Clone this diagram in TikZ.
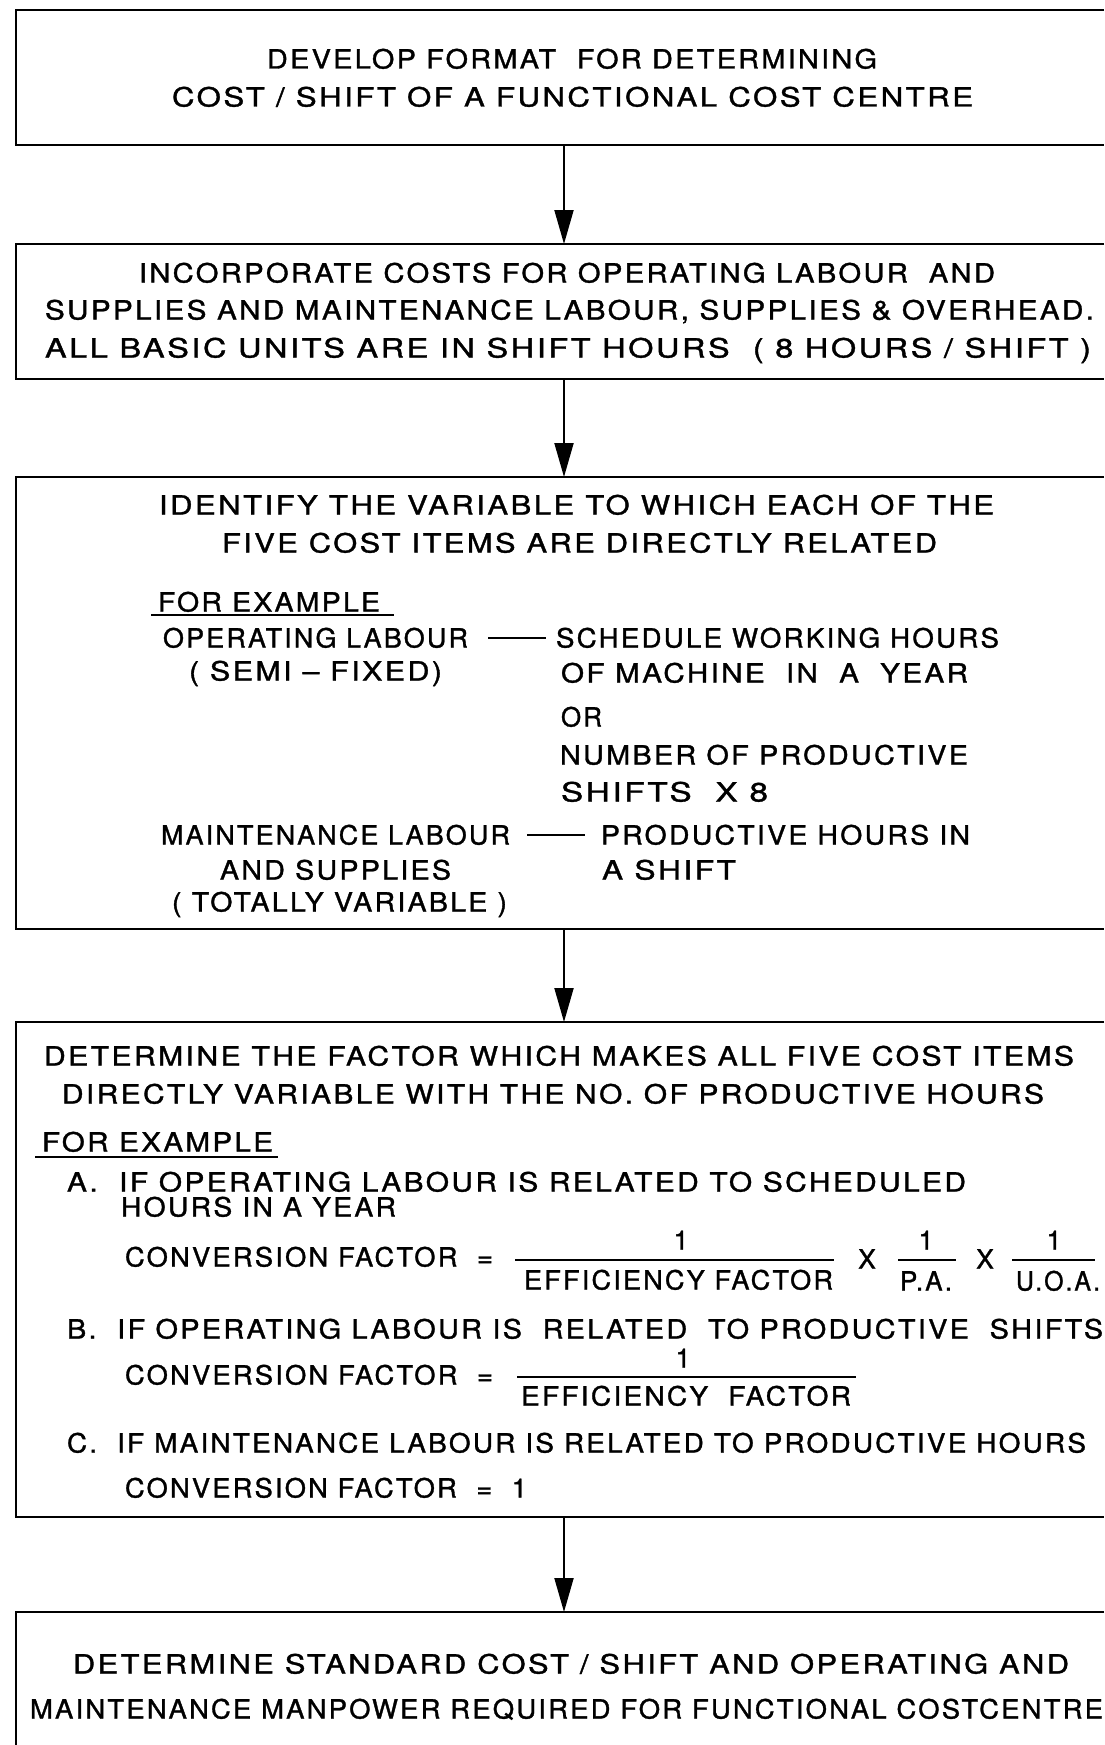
\documentclass[tikz,border=0pt]{standalone}
\usepackage{fontspec}
\setmainfont{TeX Gyre Heros}[LetterSpace=8,FakeBold=1.2]
\usetikzlibrary{arrows.meta}
\newcommand{\fw}[2]{\resizebox{#1pt}{\height}{#2}}
\newcommand{\mytxt}[5]{\node[txt] (#1) at (#2,{#3+9.5}) {\fw{#4}{#5}};}
\newcommand{\mynum}[4]{\node[ctxt] (#1) at (#2,{#3+9.5}) {#4};}
\begin{document}
\begin{tikzpicture}[x=1pt,y=-1pt,
  txt/.style={inner sep=0pt, outer sep=0pt, anchor=base west, font=\fontsize{26.5}{30}\selectfont},
  ctxt/.style={inner sep=0pt, outer sep=0pt, anchor=base, font=\fontsize{26.5}{30}\selectfont},
  boxline/.style={line width=2.4pt, line join=miter},
  arr/.style={line width=2pt, -{Triangle[length=34pt,width=19pt]}},
  rulel/.style={line width=2pt},
  boxn/.style={inner sep=0pt, outer sep=0pt, anchor=north west, minimum width=1088pt}]
\useasboundingbox[fill=white] (0,0) rectangle (1104,1745);

% boxes
\node[boxn, minimum height=135pt] (box1) at (16,10) {};
\node[boxn, minimum height=135pt] (box2) at (16,244) {};
\node[boxn, minimum height=452pt] (box3) at (16,477) {};
\node[boxn, minimum height=495pt] (box4) at (16,1022) {};
\node[boxn, minimum height=133pt] (box5) at (16,1612) {};
\foreach \b in {box1,box2,box3,box4}{
  \draw[boxline] (\b.north east) -- (\b.north west) -- (\b.south west) -- (\b.south east);
}
\draw[boxline] (box5.north east) -- (box5.north west) -- (box5.south west);

% arrows
\coordinate (ax) at (564,0);
\draw[arr] (box1.south -| ax) -- (box2.north -| ax);
\draw[arr] (box2.south -| ax) -- (box3.north -| ax);
\draw[arr] (box3.south -| ax) -- (box4.north -| ax);
\draw[arr] (box4.south -| ax) -- (box5.north -| ax);

% box 1
\mytxt{b1a}{267}{59}{610}{DEVELOP FORMAT\ \ FOR DETERMINING}
\mytxt{b1b}{172}{97}{801}{COST / SHIFT OF A FUNCTIONAL COST CENTRE}

% box 2
\mytxt{b2a}{139}{273}{856}{INCORPORATE COSTS FOR OPERATING LABOUR\ \ AND}
\mytxt{b2b}{45}{310}{1049}{SUPPLIES AND MAINTENANCE LABOUR, SUPPLIES \& OVERHEAD.}
\mytxt{b2c}{45}{348}{1046}{ALL BASIC UNITS ARE IN SHIFT HOURS\ \ ( 8 HOURS / SHIFT )}

% box 3
\mytxt{b3a}{159}{505}{835}{IDENTIFY THE VARIABLE TO WHICH EACH OF THE}
\mytxt{b3b}{222}{543}{715}{FIVE COST ITEMS ARE DIRECTLY RELATED}
\mytxt{b3c}{158}{602}{222}{FOR EXAMPLE}
\coordinate (u1a) at (151,615); \coordinate (u1b) at (394,615);
\draw[rulel] (u1a) -- (u1b);
\mytxt{b3d}{163}{638}{305}{OPERATING LABOUR}
\coordinate (d1a) at (488,638); \coordinate (d1b) at (546,638);
\draw[rulel] (d1a) -- (d1b);
\mytxt{b3e}{556}{638}{443}{SCHEDULE WORKING HOURS}
\mytxt{b3f}{189}{671}{253}{( SEMI – FIXED)}
\mytxt{b3g}{561}{673}{407}{OF MACHINE\ \ IN\ \ A\ \ YEAR}
\mytxt{b3h}{561}{717}{41}{OR}
\mytxt{b3i}{560}{755}{408}{NUMBER OF PRODUCTIVE}
\mytxt{b3j}{561}{792}{207}{SHIFTS\ \ X 8}
\mytxt{b3k}{161}{835}{349}{MAINTENANCE LABOUR}
\coordinate (d2a) at (527,835); \coordinate (d2b) at (585,835);
\draw[rulel] (d2a) -- (d2b);
\mytxt{b3l}{601}{835}{369}{PRODUCTIVE HOURS IN}
\mytxt{b3m}{220}{870}{231}{AND SUPPLIES}
\mytxt{b3n}{602}{870}{134}{A SHIFT}
\mytxt{b3o}{172}{902}{335}{( TOTALLY VARIABLE )}

% box 4
\mytxt{b4a}{44}{1056}{1030}{DETERMINE THE FACTOR WHICH MAKES ALL FIVE COST ITEMS}
\mytxt{b4b}{62}{1094}{982}{DIRECTLY VARIABLE WITH THE NO. OF PRODUCTIVE HOURS}
\mytxt{b4c}{42}{1142}{231}{FOR EXAMPLE}
\coordinate (u2a) at (35,1157); \coordinate (u2b) at (278,1157);
\draw[rulel] (u2a) -- (u2b);
\mytxt{b4d}{67}{1182}{899}{A.\ \ IF OPERATING LABOUR IS RELATED TO SCHEDULED}
\mytxt{b4e}{121}{1207}{275}{HOURS IN A YEAR}
\mytxt{b4f}{125}{1257}{368}{CONVERSION FACTOR\ \ =}
\mynum{f1n}{681}{1240}{1}
\coordinate (f1a) at (515,1260); \coordinate (f1b) at (834,1260);
\draw[rulel] (f1a) -- (f1b);
\mytxt{f1d}{524}{1280}{309}{EFFICIENCY FACTOR}
\mynum{x1}{867}{1259}{X}
\mynum{f2n}{926}{1240}{1}
\coordinate (f2a) at (898,1260); \coordinate (f2b) at (956,1260);
\draw[rulel] (f2a) -- (f2b);
\mytxt{f2d}{900}{1281}{52}{P.A.}
\mynum{x2}{985}{1259}{X}
\mynum{f3n}{1054}{1240}{1}
\coordinate (f3a) at (1012,1260); \coordinate (f3b) at (1095,1260);
\draw[rulel] (f3a) -- (f3b);
\mytxt{f3d}{1016}{1281}{84}{U.O.A.}
\mytxt{b4g}{67}{1329}{1036}{B.\ \ IF OPERATING LABOUR IS\ \ RELATED\ \ TO PRODUCTIVE\ \ SHIFTS}
\mytxt{b4h}{125}{1375}{368}{CONVERSION FACTOR\ \ =}
\mynum{f4n}{683}{1358}{1}
\coordinate (f4a) at (517,1377); \coordinate (f4b) at (856,1377);
\draw[rulel] (f4a) -- (f4b);
\mytxt{f4d}{521}{1396}{330}{EFFICIENCY\ \ FACTOR}
\mytxt{b4i}{67}{1443}{1019}{C.\ \ IF MAINTENANCE LABOUR IS RELATED TO PRODUCTIVE HOURS}
\mytxt{b4j}{125}{1488}{402}{CONVERSION FACTOR\ \ =\ \ 1}

% box 5
\mytxt{b5a}{73}{1664}{996}{DETERMINE STANDARD COST / SHIFT AND OPERATING AND}
\mytxt{b5b}{30}{1709}{1073}{MAINTENANCE MANPOWER REQUIRED FOR FUNCTIONAL COSTCENTRE}
\end{tikzpicture}
\end{document}
